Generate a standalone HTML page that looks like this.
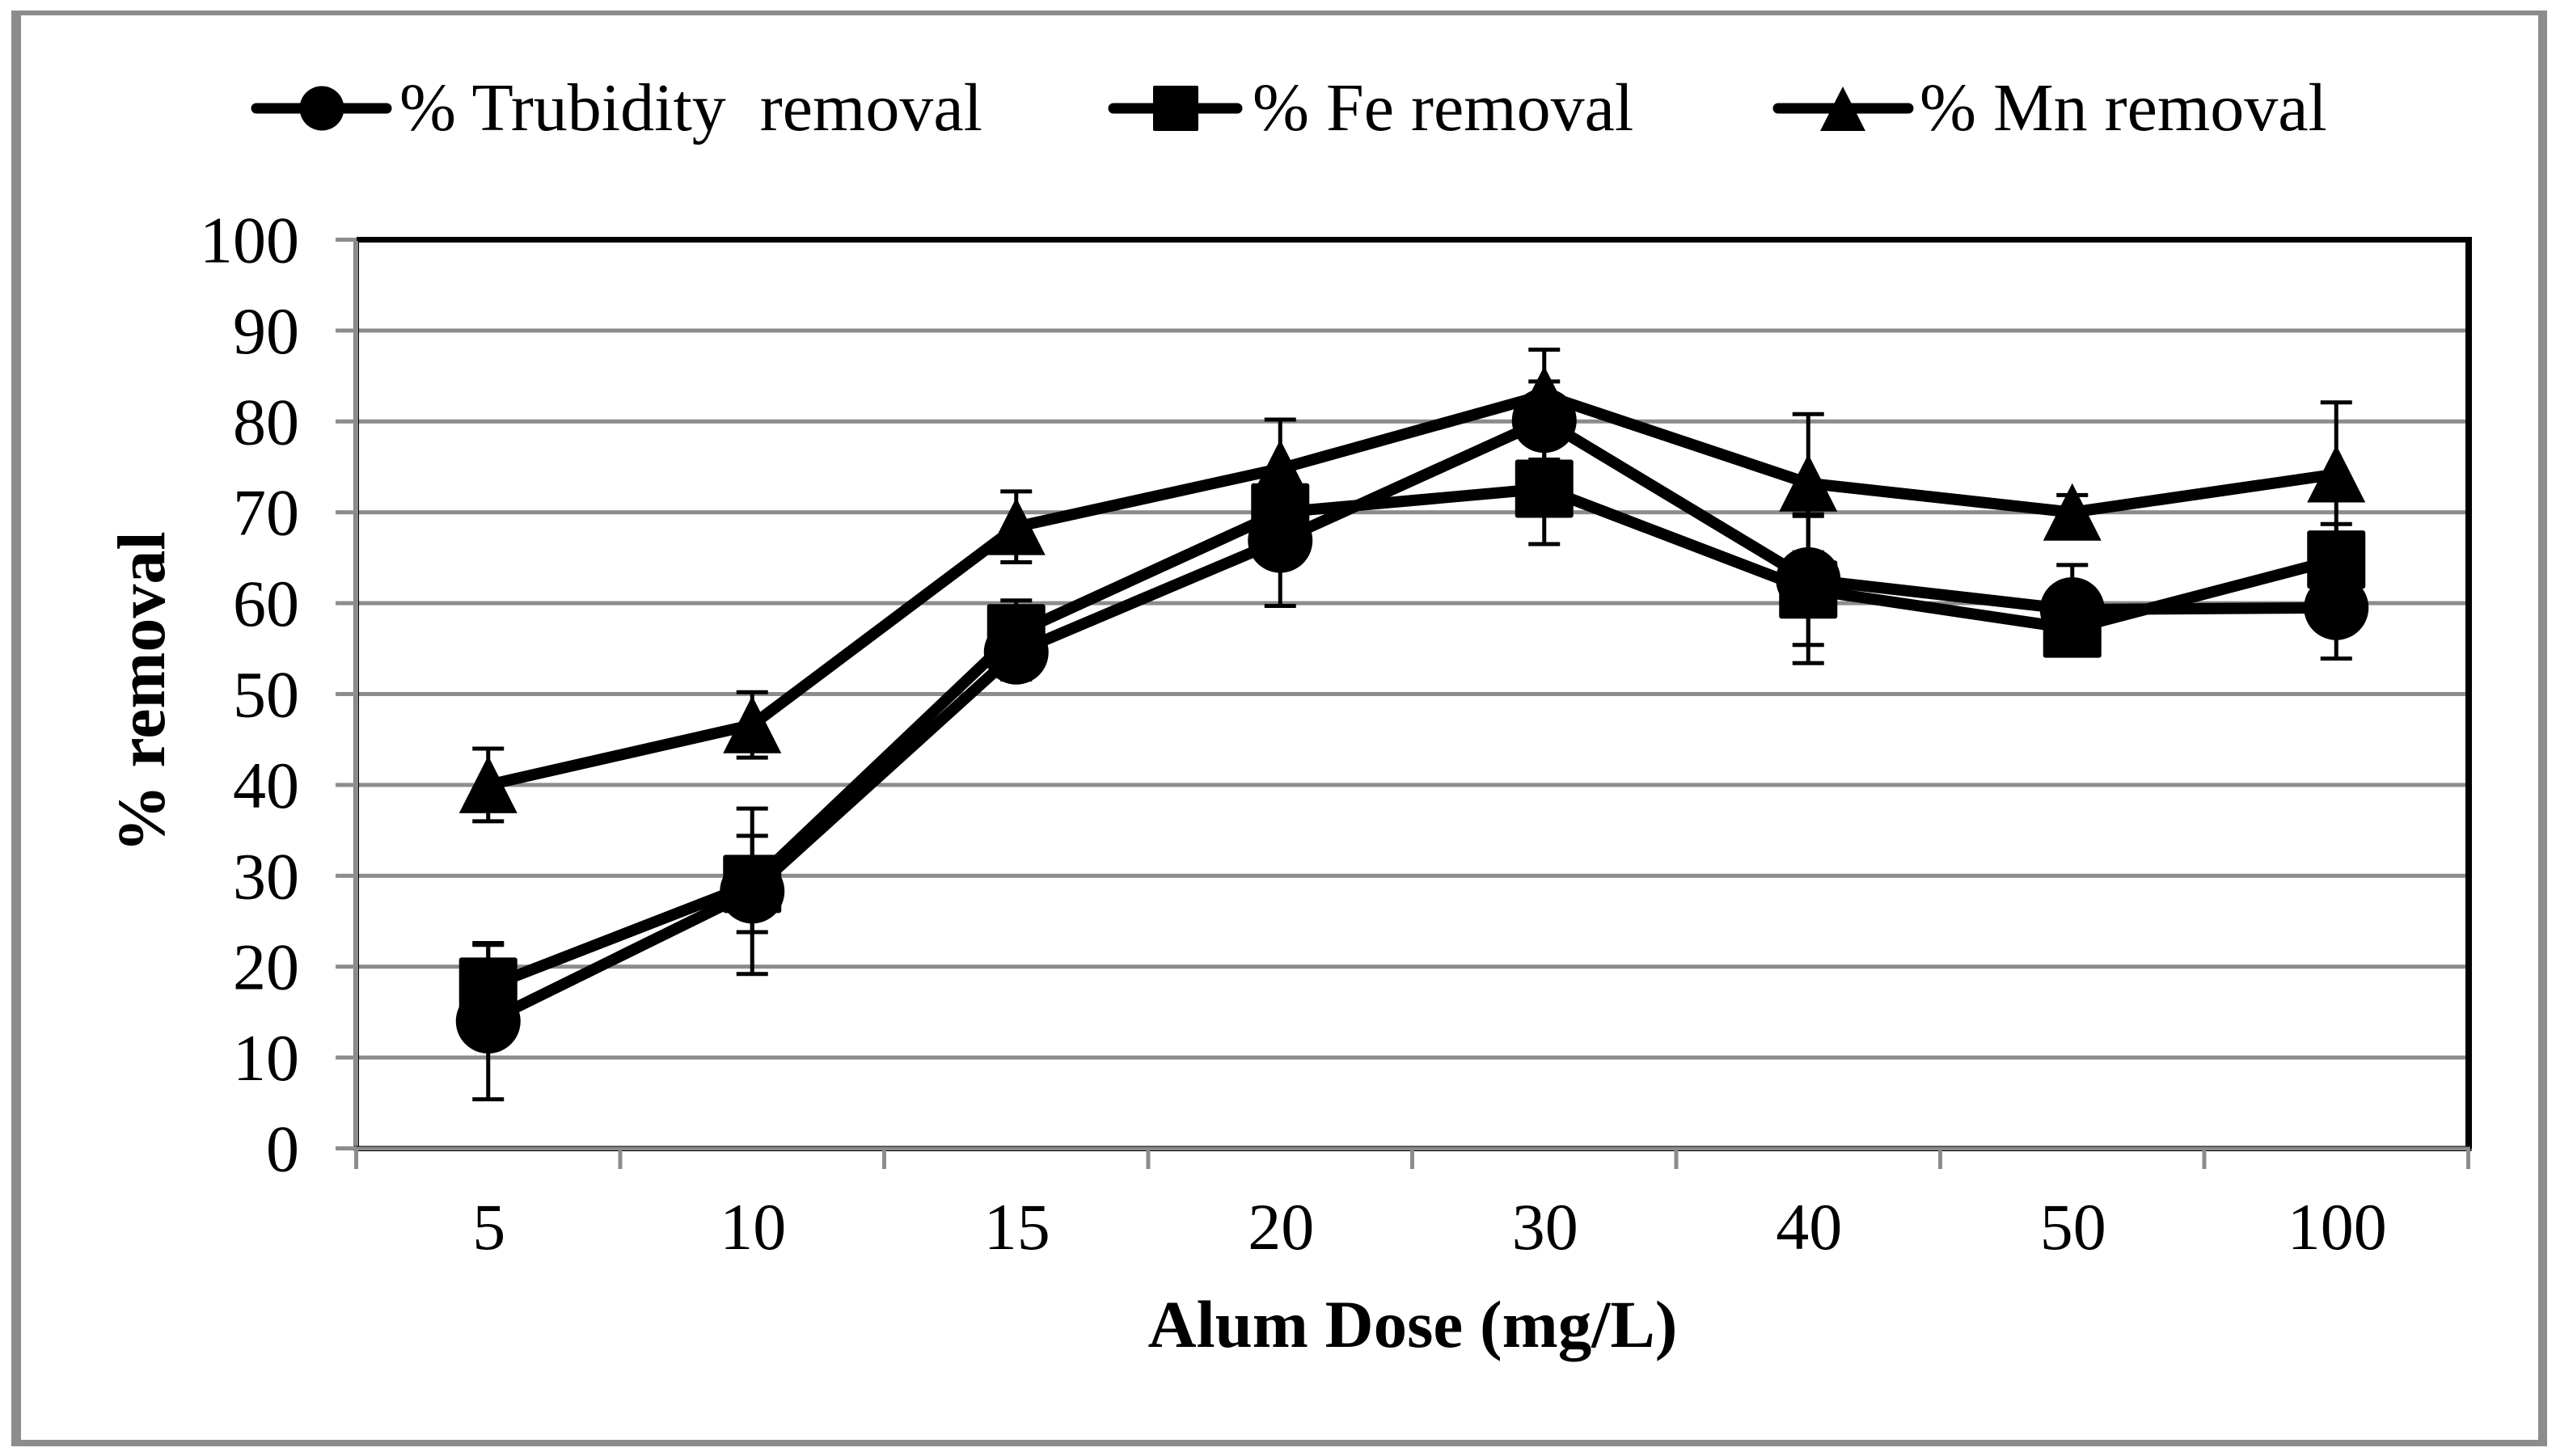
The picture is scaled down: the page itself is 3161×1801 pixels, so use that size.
<!DOCTYPE html>
<html lang="en">
<head>
<meta charset="utf-8">
<title>Alum Dose vs % removal</title>
<style>
html,body{margin:0;padding:0;background:#fff;width:3161px;height:1801px;overflow:hidden}
svg{display:block}
text{font-family:"Liberation Serif",serif;fill:#000;white-space:pre}
</style>
</head>
<body>
<svg id="chart" xmlns="http://www.w3.org/2000/svg" width="3161" height="1801" viewBox="0 0 3161 1801">
  <rect x="0" y="0" width="3161" height="1801" fill="#fff"/>
  <g fill="#8c8c8c">
    <rect x="14" y="13" width="3136" height="6"/>
    <rect x="14" y="1781" width="3136" height="8"/>
    <rect x="14" y="13" width="12" height="1776"/>
    <rect x="3139" y="13" width="11" height="1776"/>
  </g>
  <g id="grid"></g>
  <g id="frame"></g>
  <g id="yticks"></g>
  <g id="xticks"></g>
  <g id="series"></g>
  <text x="1747" y="1666" font-size="83" font-weight="bold" text-anchor="middle">Alum Dose (mg/L)</text>
  <text transform="translate(203 856) rotate(-90)" x="0" y="0" font-size="84" font-weight="bold" text-anchor="middle">% removal</text>
  <g fill="#000" stroke="none">
    <g>
      <line x1="317" y1="134" x2="478" y2="134" stroke="#000" stroke-width="13" stroke-linecap="round"/>
      <circle cx="398" cy="134" r="27.5"/>
      <text x="494" y="161" font-size="84" xml:space="preserve">% Trubidity  removal</text>
    </g>
    <g>
      <line x1="1377" y1="134" x2="1530" y2="134" stroke="#000" stroke-width="13" stroke-linecap="round"/>
      <rect x="1426" y="106" width="56" height="56" rx="2"/>
      <text x="1549" y="161" font-size="84">% Fe removal</text>
    </g>
    <g>
      <line x1="2199" y1="134" x2="2360" y2="134" stroke="#000" stroke-width="13" stroke-linecap="round"/>
      <polygon points="2279,107 2307,162 2251,162"/>
      <text x="2374" y="161" font-size="84">% Mn removal</text>
    </g>
  </g>
</svg>
<script>
const categories = ["5", "10", "15", "20", "30", "40", "50", "100"];
const yTickValues = [0, 10, 20, 30, 40, 50, 60, 70, 80, 90, 100];
const turbidityValues = [14, 28.3, 54.6, 66.9, 80.1, 62.6, 59.3, 59.5];
const feValues = [17.8, 29.1, 56.7, 70, 72.6, 61.5, 57.2, 64.8];
const mnValues = [40, 46.6, 68.4, 74.8, 82.9, 73.2, 70, 74.2];
const turbidityErrors = [8.6, 9.1, 3, 7.2, 4.3, 7.2, 4.9, 5.6];
const feErrors = [4.6, 5.3, 3.6, 2.5, 6.1, 8.1, 2.6, 3.9];
const mnErrors = [4, 3.6, 3.9, 5.4, 5, 7.6, 1.9, 7.9];

const NS = "http://www.w3.org/2000/svg";
const plotLeft = 440.5, plotRight = 3052.5, plotBottom = 1420.5, plotTop = 296.5;
const GRAY = "#8c8c8c";
const yMax = yTickValues[yTickValues.length - 1];
const bandWidth = (plotRight - plotLeft) / categories.length;
function xScale(i) { return plotLeft + (i + 0.5) * bandWidth; }
function yScale(v) { return plotBottom - (v / yMax) * (plotBottom - plotTop); }
function make(tag, attrs) {
  const el = document.createElementNS(NS, tag);
  for (const k in attrs) el.setAttribute(k, attrs[k]);
  return el;
}
const grid = document.getElementById("grid");
const frame = document.getElementById("frame");
const yticks = document.getElementById("yticks");
const xticks = document.getElementById("xticks");
const seriesLayer = document.getElementById("series");

yTickValues.forEach(function (v) {
  const y = yScale(v);
  if (v > 0 && v < yMax) {
    const g = make("rect", { x: plotLeft, y: y - 2.5, width: plotRight - plotLeft, height: 5, fill: GRAY });
    
    
    grid.appendChild(g);
  }
  const t = make("rect", { x: 415, y: y - 2.5, width: 26, height: 5, fill: GRAY });
  
  
  yticks.appendChild(t);
  const label = make("text", { x: 370, y: y + 28, "font-size": 82, "text-anchor": "end" });
  label.textContent = String(v);
  
  
  yticks.appendChild(label);
});

const topAxis = make("rect", { x: 441, y: 293, width: 2616, height: 7, fill: "#000" });


frame.appendChild(topAxis);
const rightAxis = make("rect", { x: 3049, y: 293, width: 8, height: 1128, fill: "#000" });


frame.appendChild(rightAxis);
const leftAxisEdge = make("rect", { x: 437.5, y: 296, width: 6.5, height: 1128, fill: "#000" });


frame.appendChild(leftAxisEdge);
const leftAxis = make("rect", { x: 438, y: 298, width: 5, height: 1125, fill: GRAY });


frame.appendChild(leftAxis);
const bottomEdge = make("rect", { x: 437.5, y: 1417.5, width: 2619, height: 6.5, fill: "#000" });


frame.appendChild(bottomEdge);
const bottomAxis = make("rect", { x: 438, y: 1418.5, width: 2617, height: 4.5, fill: GRAY });


frame.appendChild(bottomAxis);

for (let i = 0; i <= categories.length; i++) {
  const x = plotLeft + i * bandWidth;
  const t = make("rect", { x: x - 2.5, y: 1418.5, width: 5, height: 27.5, fill: GRAY });
  
  
  xticks.appendChild(t);
}
categories.forEach(function (c, i) {
  const label = make("text", { x: xScale(i) + 1, y: 1545, "font-size": 82, "text-anchor": "middle" });
  label.textContent = c;
  
  
  xticks.appendChild(label);
});

function drawErrors(group, values, errors) {
  values.forEach(function (v, i) {
    const x = xScale(i), hi = yScale(v + errors[i]), lo = yScale(v - errors[i]);
    const stem = make("line", { x1: x, x2: x, y1: hi, y2: lo, stroke: "#000", "stroke-width": 5 });
    
    
    group.appendChild(stem);
    const capTop = make("line", { x1: x - 19.5, x2: x + 19.5, y1: hi, y2: hi, stroke: "#000", "stroke-width": 5 });
    
    
    group.appendChild(capTop);
    const capBottom = make("line", { x1: x - 19.5, x2: x + 19.5, y1: lo, y2: lo, stroke: "#000", "stroke-width": 5 });
    
    
    group.appendChild(capBottom);
  });
}
function drawLine(group, values) {
  const pts = values.map(function (v, i) { return xScale(i) + "," + yScale(v); }).join(" ");
  const line = make("polyline", { points: pts, fill: "none", stroke: "#000", "stroke-width": 14, "stroke-linejoin": "round" });
  
  
  group.appendChild(line);
}

const turbidityGroup = make("g", {});


seriesLayer.appendChild(turbidityGroup);
drawErrors(turbidityGroup, turbidityValues, turbidityErrors);
drawLine(turbidityGroup, turbidityValues);
turbidityValues.forEach(function (v, i) {
  const m = make("circle", { cx: xScale(i), cy: yScale(v), r: 40, fill: "#000" });
  
  
  turbidityGroup.appendChild(m);
});

const feGroup = make("g", {});


seriesLayer.appendChild(feGroup);
drawErrors(feGroup, feValues, feErrors);
drawLine(feGroup, feValues);
feValues.forEach(function (v, i) {
  const m = make("rect", { x: xScale(i) - 36, y: yScale(v) - 36, width: 72, height: 72, rx: 3, fill: "#000" });
  
  
  feGroup.appendChild(m);
});

const mnGroup = make("g", {});


seriesLayer.appendChild(mnGroup);
drawErrors(mnGroup, mnValues, mnErrors);
drawLine(mnGroup, mnValues);
mnValues.forEach(function (v, i) {
  const x = xScale(i), y = yScale(v);
  const m = make("polygon", { points: x + "," + (y - 36) + " " + (x + 36) + "," + (y + 35) + " " + (x - 36) + "," + (y + 35), fill: "#000" });
  
  
  mnGroup.appendChild(m);
});
</script>
</body>
</html>
